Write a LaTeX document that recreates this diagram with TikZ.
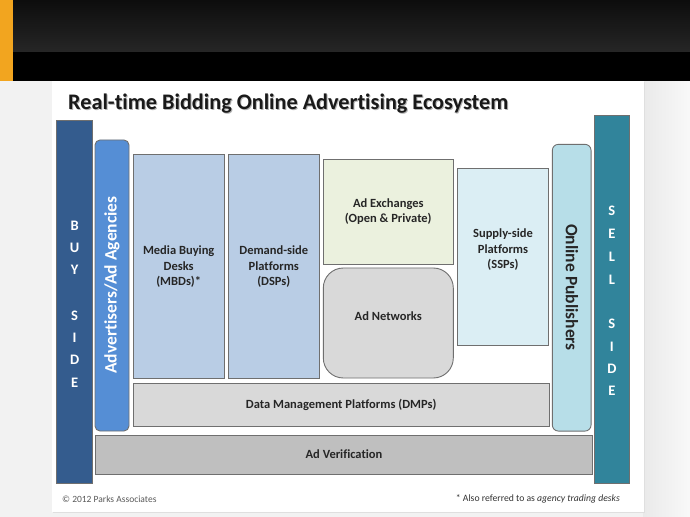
\documentclass[tikz,border=0pt]{standalone}
\usepackage{fontspec}
\setmainfont{Carlito}[Ligatures=NoCommon]
\usetikzlibrary{positioning}
\definecolor{buyblue}{HTML}{345C8E}
\definecolor{advblue}{HTML}{558ED5}
\definecolor{mbdblue}{HTML}{B9CDE5}
\definecolor{adxgreen}{HTML}{EBF1DE}
\definecolor{netgray}{HTML}{D9D9D9}
\definecolor{sspblue}{HTML}{DBEEF4}
\definecolor{pubblue}{HTML}{B7DEE8}
\definecolor{selltea}{HTML}{31849B}
\definecolor{verigray}{HTML}{BFBFBF}
\definecolor{slideorange}{HTML}{F2A51F}
\definecolor{bordergray}{HTML}{6F6F6F}
\begin{document}
\begin{tikzpicture}[x=1bp,y=-1bp]
		\tikzstyle{box}=[draw=bordergray, line width=0.9bp, inner sep=0pt, align=center, font=\fontsize{12.5bp}{15.5bp}\selectfont\bfseries, text=black!85]
		\tikzstyle{sidetxt}=[inner sep=0pt, text=white, font=\fontsize{14.5bp}{15bp}\selectfont\bfseries]
		\useasboundingbox (0,0) rectangle (690,517);
		% Slide
		\fill[gray!10] (0,0) rectangle (690,517);
		\shade[left color=gray!17, right color=gray!5] (643,81) rectangle (690,517);
		\shade[top color=black!95, bottom color=black!85] (0,0) rectangle (690,52);
		\fill[black] (0,52) rectangle (690,81);
		\fill[slideorange] (0,0) rectangle (13,81);
		\fill[gray!25] (53,82) rectangle (644.5,513);
		\fill[white] (52,81) rectangle (643.5,511.7);
		\node[anchor=base west, inner sep=0pt, font=\fontsize{22.2bp}{24bp}\selectfont\bfseries, text=black!30] (shadow) at (69,111) {Real-time Bidding Online Advertising Ecosystem};
		\node[anchor=base west, inner sep=0pt, font=\fontsize{22.2bp}{24bp}\selectfont\bfseries, text=black!90] (title) at (68,110) {Real-time Bidding Online Advertising Ecosystem};
		
		% Buy side
		\node[box, fill=buyblue, minimum width=35.8bp, minimum height=362.6bp] (buy) at (74.6,302) {};
		\foreach \l/\y in {B/226,U/248,Y/270,S/316,I/338,D/360,E/383}
			\node[sidetxt] (buy\y) at (74.6,\y) {\l};
		\node[box, fill=advblue, rounded corners=5bp, minimum width=34bp, minimum height=291bp] (adv) at (112,285.5) {};
		\node[rotate=90, text=white, inner sep=0pt, font=\fontsize{17.5bp}{19bp}\selectfont\bfseries] (advtxt) at (112,285) {Advertisers/Ad Agencies};
		
		% Middle
		\node[box, fill=mbdblue, minimum width=90.7bp, minimum height=224bp] (mbd) at (178.7,266) {};
		\node[box, draw=none] (mbdtxt) at (178.7,267) {Media Buying\\Desks\\(MBDs)*};
		\node[box, fill=mbdblue, minimum width=91bp, minimum height=224bp] (dsp) at (273.8,266) {};
		\node[box, draw=none] (dsptxt) at (273.8,267) {Demand-side\\Platforms\\(DSPs)};
		\node[box, fill=adxgreen, minimum width=130bp, minimum height=105bp] (adx) at (388.3,211.5) {Ad Exchanges\\(Open \& Private)};
		\node[box, fill=netgray, rounded corners=20bp, minimum width=130bp, minimum height=110bp] (adn) at (388.3,323) {};
		\node[box, draw=none] (adntxt) at (388.3,316) {Ad Networks};
		\node[box, fill=sspblue, minimum width=91.4bp, minimum height=176.7bp] (ssp) at (503,256.7) {};
		\node[box, draw=none] (ssptxt) at (503,250) {Supply-side\\Platforms\\(SSPs)};
		\node[box, fill=netgray, minimum width=415.6bp, minimum height=42.7bp] (dmp) at (341.2,404.7) {Data Management Platforms (DMPs)};
		
		% Sell side
		\node[box, fill=pubblue, rounded corners=6bp, minimum width=38.7bp, minimum height=286.7bp] (pub) at (571.7,287.7) {};
		\node[rotate=-90, text=black!85, inner sep=0pt, font=\fontsize{17.5bp}{19bp}\selectfont\bfseries] (pubtxt) at (572,287.5) {Online Publishers};
		\node[box, fill=selltea, minimum width=35.7bp, minimum height=367.6bp] (sell) at (611.9,299.5) {};
		\foreach \l/\y in {S/211,E/234,L/257,L/280,S/324,I/347,D/369,E/391}
			\node[sidetxt] (sell\y) at (611.9,\y) {\l};
		\node[box, fill=verigray, minimum width=497.5bp, minimum height=39bp] (ver) at (344,454.5) {Ad Verification};
		
		% Footer
		\node[anchor=west, inner sep=0pt, text=black!65, font=\fontsize{9.5bp}{10bp}\selectfont] (copy) at (62,499) {\textcopyright\ 2012 Parks Associates};
		\node[anchor=east, inner sep=0pt, text=black!80, font=\fontsize{9.7bp}{10bp}\selectfont] (note) at (620,499) {* Also referred to as \textit{agency trading desks}};
	\end{tikzpicture}
\end{document}
